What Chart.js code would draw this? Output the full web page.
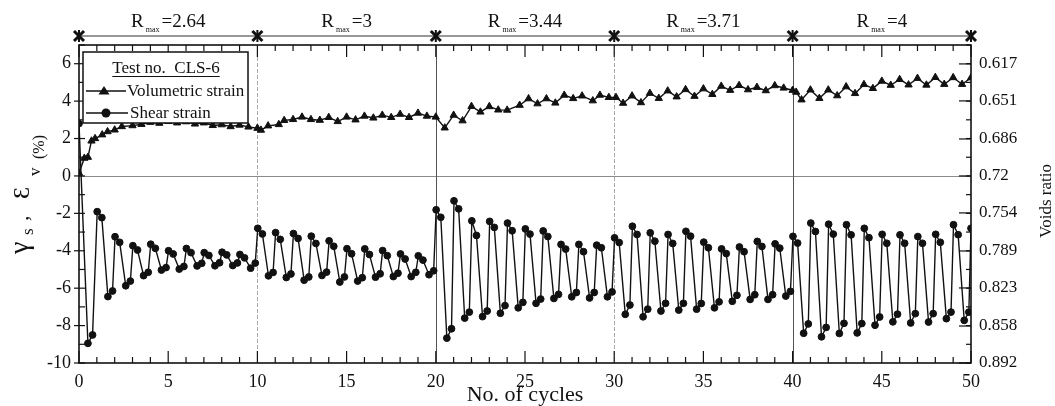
<!DOCTYPE html>
<html><head><meta charset="utf-8">
<script src="https://cdn.jsdelivr.net/npm/chart.js@4.4.1/dist/chart.umd.min.js"></script>
<style>html,body{margin:0;padding:0;background:#fff}#wrap{width:1055px;height:406px;position:relative}</style>
</head><body><div id="wrap"><canvas id="c" width="1055" height="406"></canvas></div>
<script>
// ---- data ----
const volX=[0,0.3,0.5,0.7,0.9,1.3,1.6,2,2.4,3,3.5,4,4.5,5,5.5,6,6.5,7,7.5,8,8.5,9,9.5,10,10.2,10.6,11.2,11.5,12,12.5,13,13.5,14,14.5,15,15.5,16,16.5,17,17.5,18,18.5,19,19.5,20,20.5,21,21.5,22,22.5,23,23.5,24,24.7,25.2,25.7,26.2,26.7,27.2,27.7,28.2,28.8,29.2,29.7,30.1,30.5,31,31.5,32,32.5,33,33.5,34,34.5,35,35.5,36,36.5,37,37.5,38,38.5,39,39.5,40,40.2,40.5,41,41.5,42,42.5,43,43.5,44,44.5,45,45.5,46,46.5,47,47.5,48,48.5,49,49.5,50];
const volY=[0.15,0.95,1.0,1.87,2.0,2.2,2.37,2.46,2.64,2.69,2.76,2.87,2.82,2.92,2.84,2.9,2.78,2.84,2.7,2.74,2.64,2.72,2.62,2.55,2.45,2.68,2.75,2.97,3.02,3.15,3.02,2.98,3.13,2.91,3.15,3.0,3.2,3.1,3.25,3.13,3.3,3.13,3.36,3.2,3.15,2.57,3.25,2.95,3.72,3.42,3.71,3.53,3.52,3.78,4.13,3.86,4.13,3.9,4.32,4.14,4.28,4.02,4.32,4.2,4.2,3.89,4.28,3.92,4.42,4.15,4.55,4.23,4.62,4.26,4.66,4.36,4.8,4.58,4.84,4.61,4.74,4.56,4.83,4.7,4.58,4.48,4.07,4.6,4.15,4.6,4.29,4.77,4.41,4.89,4.68,5.07,4.85,5.16,4.87,5.22,4.86,5.27,4.9,5.26,4.9,5.25];
const shearX=[0,0.5,0.76,
1.02,1.28,1.62,1.88, 2.02,2.28,2.62,2.88, 3.02,3.28,3.62,3.88, 4.02,4.28,4.62,4.88, 5.02,5.28,5.62,5.88,
6.02,6.28,6.62,6.88, 7.02,7.28,7.62,7.88, 8.02,8.28,8.62,8.88, 9.02,9.28,9.62,9.88, 10.02,10.28,10.62,10.88,
11.02,11.28,11.62,11.88, 12.02,12.28,12.62,12.88, 13.02,13.28,13.62,13.88, 14.02,14.28,14.62,14.88, 15.02,15.28,15.62,15.88,
16.02,16.28,16.62,16.88, 17.02,17.28,17.62,17.88, 18.02,18.28,18.62,18.88, 19.02,19.28,19.62,19.88, 20.02,20.28,20.62,20.88,
21.02,21.28,21.62,21.88, 22.02,22.28,22.62,22.88, 23.02,23.28,23.62,23.88, 24.02,24.28,24.62,24.88, 25.02,25.28,25.62,25.88,
26.02,26.28,26.62,26.88, 27.02,27.28,27.62,27.88, 28.02,28.28,28.62,28.88, 29.02,29.28,29.62,29.88, 30.02,30.28,30.62,30.88,
31.02,31.28,31.62,31.88, 32.02,32.28,32.62,32.88, 33.02,33.28,33.62,33.88, 34.02,34.28,34.62,34.88, 35.02,35.28,35.62,35.88,
36.02,36.28,36.62,36.88, 37.02,37.28,37.62,37.88, 38.02,38.28,38.62,38.88, 39.02,39.28,39.62,39.88, 40.02,40.28,40.62,40.88,
41.02,41.28,41.62,41.88, 42.02,42.28,42.62,42.88, 43.02,43.28,43.62,43.88, 44.02,44.28,44.62,44.88, 45.02,45.28,45.62,45.88,
46.02,46.28,46.62,46.88, 47.02,47.28,47.62,47.88, 48.02,48.28,48.62,48.88, 49.02,49.28,49.62,49.88, 50];
const shearY=[2.8,-8.95,-8.5,
-1.91,-2.23,-6.45,-6.15, -3.25,-3.55,-5.87,-5.62, -3.73,-3.96,-5.33,-5.15, -3.65,-3.87,-5.03,-4.9, -4.0,-4.17,-4.98,-4.84,
-3.88,-4.1,-4.81,-4.67, -4.1,-4.25,-4.8,-4.64, -4.08,-4.22,-4.79,-4.65, -4.2,-4.38,-4.93,-4.66, -2.8,-3.1,-5.34,-5.16,
-3.03,-3.39,-5.43,-5.24, -3.08,-3.34,-5.57,-5.4, -3.22,-3.61,-5.32,-5.14, -3.47,-3.76,-5.67,-5.4, -3.89,-4.16,-5.62,-5.44,
-3.9,-4.2,-5.41,-5.23, -3.99,-4.26,-5.38,-5.2, -4.17,-4.44,-5.38,-5.15, -4.27,-4.5,-5.28,-5.07, -1.81,-2.21,-8.67,-8.17,
-1.33,-1.76,-7.6,-7.28, -2.4,-3.18,-7.52,-7.22, -2.43,-2.75,-7.34,-6.93, -2.52,-2.93,-7.05,-6.76, -2.83,-3.11,-6.81,-6.58,
-2.94,-3.24,-6.55,-6.33, -3.66,-3.91,-6.46,-6.23, -3.66,-4.05,-6.52,-6.23, -3.7,-3.84,-6.46,-6.2, -3.31,-3.56,-7.4,-6.9,
-2.69,-3.13,-7.53,-7.12, -3.04,-3.49,-7.22,-6.81, -3.13,-3.61,-7.17,-6.81, -2.96,-3.22,-7.12,-6.82, -3.54,-3.84,-7.05,-6.73,
-3.9,-4.15,-6.7,-6.38, -3.8,-4.05,-6.6,-6.35, -3.5,-3.77,-6.6,-6.35, -3.63,-3.86,-6.42,-6.17, -3.23,-3.59,-8.41,-7.91,
-2.52,-2.97,-8.6,-8.1, -2.58,-3.11,-8.42,-7.88, -2.61,-3.15,-8.39,-7.89, -2.8,-3.3,-7.98,-7.54, -3.12,-3.6,-7.8,-7.39,
-3.15,-3.6,-7.86,-7.36, -3.24,-3.6,-7.81,-7.36, -3.12,-3.55,-7.63,-7.28, -2.61,-3.14,-7.72,-7.28, -2.8];
const leftTickLabels=[-10,-8,-6,-4,-2,0,2,4,6];
const voidsTicks=[0.617,0.651,0.686,0.72,0.754,0.789,0.823,0.858,0.892];
const stageBounds=[0,10,20,30,40,50];
const stageLabels=['2.64','3','3.44','3.71','4'];
const legendTitle='Test no.  CLS-6';
const seriesNames=['Volumetric strain','Shear strain'];
const xTitle='No. of cycles';
const y2Title='Voids ratio';

const SERIF='"Liberation Serif","Times New Roman",serif';
const INK='#111';
Chart.defaults.font.family=SERIF;
Chart.defaults.color=INK;

function seg(ctx,x1,y1,x2,y2){ctx.beginPath();ctx.moveTo(x1,y1);ctx.lineTo(x2,y2);ctx.stroke();}

const decor={
  id:'decor',
  beforeDatasetsDraw(chart){
    const {ctx,chartArea:a,scales:{x,y}}=chart;
    ctx.save();ctx.lineWidth=1;
    stageBounds.slice(1,-1).forEach((v,i)=>{
      const px=Math.round(x.getPixelForValue(v))+0.5;
      if(i%2===1){ctx.strokeStyle='rgba(40,40,40,0.8)';ctx.setLineDash([]);}
      else{ctx.strokeStyle='rgba(110,110,110,0.6)';ctx.setLineDash([4,2]);}
      seg(ctx,px,a.top,px,a.bottom);
    });
    ctx.setLineDash([]);ctx.strokeStyle='rgba(90,90,90,0.7)';
    const py=Math.round(y.getPixelForValue(0))+0.5;seg(ctx,a.left,py,a.right,py);
    ctx.restore();
  },
  afterDatasetsDraw(chart){
    const {ctx,chartArea:a,scales:{x,y,y2}}=chart;
    ctx.save();
    ctx.strokeStyle=INK;ctx.fillStyle=INK;
    // frame
    ctx.lineWidth=1.6;ctx.strokeRect(a.left,a.top,a.right-a.left,a.bottom-a.top);
    // x ticks (inward, top and bottom)
    ctx.lineWidth=1.2;
    for(let v=x.min;v<=x.max;v++){
      const px=x.getPixelForValue(v);const len=(v%5===0)?12:6;
      seg(ctx,px,a.bottom,px,a.bottom-len);seg(ctx,px,a.top,px,a.top+len);
    }
    // y ticks
    for(let v=y.min;v<=y.max;v++){
      const py=y.getPixelForValue(v);
      seg(ctx,a.left,py,a.left+6,py);
      if(leftTickLabels.includes(v))seg(ctx,a.left-5,py,a.left,py);
      seg(ctx,a.right-5,py,a.right,py);
    }
    voidsTicks.forEach(t=>{const py=y2.getPixelForValue(t);seg(ctx,a.right-12,py,a.right,py);});
    // top stage bar
    const barY=a.top-9;
    ctx.lineWidth=1.2;ctx.strokeStyle='#333';
    seg(ctx,x.getPixelForValue(stageBounds[0]),barY,x.getPixelForValue(stageBounds[stageBounds.length-1]),barY);
    ctx.strokeStyle=INK;
    stageBounds.forEach(b=>{
      const px=x.getPixelForValue(b);
      ctx.lineWidth=3;seg(ctx,px-5,barY-5,px+5,barY+5);seg(ctx,px-5,barY+5,px+5,barY-5);
      ctx.lineWidth=2;seg(ctx,px,barY-6,px,barY+6);
    });
    ctx.textAlign='left';ctx.textBaseline='alphabetic';
    const fBig='19px '+SERIF,fSub='8px '+SERIF;
    for(let i=0;i<stageLabels.length;i++){
      const cx=x.getPixelForValue((stageBounds[i]+stageBounds[i+1])/2);
      const rest='='+stageLabels[i];
      ctx.font=fBig;const wR=ctx.measureText('R').width,wV=ctx.measureText(rest).width;
      ctx.font=fSub;const wM=ctx.measureText('max').width;
      let x0=cx-(wR+2+wM+2+wV)/2;const base=a.top-18;
      ctx.font=fBig;ctx.fillText('R',x0,base);x0+=wR+2;
      ctx.font=fSub;ctx.fillText('max',x0,base+5);x0+=wM+2;
      ctx.font=fBig;ctx.fillText(rest,x0,base);
    }
    // legend box
    const lx=a.left+4,ly=a.top+7,lw=165,lh=71;
    ctx.fillStyle='#fff';ctx.fillRect(lx,ly,lw,lh);
    ctx.lineWidth=1.5;ctx.strokeStyle=INK;ctx.strokeRect(lx,ly,lw,lh);
    ctx.fillStyle=INK;ctx.font='17px '+SERIF;ctx.textAlign='center';
    const tcx=lx+83;ctx.fillText(legendTitle,tcx,ly+21);
    const tw=ctx.measureText(legendTitle).width;ctx.lineWidth=1;seg(ctx,tcx-tw/2,ly+24.5,tcx+tw/2,ly+24.5);
    ctx.textAlign='left';
    let ry=ly+39;ctx.lineWidth=1.4;seg(ctx,lx+3,ry,lx+43,ry);
    ctx.beginPath();ctx.moveTo(lx+21,ry-5);ctx.lineTo(lx+26.5,ry+3.5);ctx.lineTo(lx+15.5,ry+3.5);ctx.closePath();ctx.fill();
    ctx.fillText(seriesNames[0],lx+44,ry+5);
    ry=ly+61;seg(ctx,lx+3,ry,lx+45,ry);
    ctx.beginPath();ctx.arc(lx+23,ry,4.5,0,Math.PI*2);ctx.fill();
    ctx.fillText(seriesNames[1],lx+47,ry+5);
    // left axis title
    ctx.save();ctx.translate(28,254);ctx.rotate(-Math.PI/2);
    ctx.textAlign='left';ctx.textBaseline='alphabetic';
    const parts=[['γ',28,0,0],['s',17,19,5],[',',22,33,0],['Ɛ',24,55,1],['v',17,78,12],['(%)',16,95,16]];
    parts.forEach(p=>{ctx.font=p[1]+'px '+SERIF;ctx.fillText(p[0],p[2],p[3]);});
    ctx.restore();
    // right axis title
    ctx.save();ctx.translate(1047,201);ctx.rotate(-Math.PI/2);
    ctx.textAlign='center';ctx.textBaseline='middle';ctx.font='17px '+SERIF;
    ctx.fillText(y2Title,0,0);ctx.restore();
    ctx.restore();
  }
};

const toPts=(xs,ys)=>xs.map((v,i)=>({x:v,y:ys[i]}));
new Chart(document.getElementById('c'),{
  type:'line',
  data:{datasets:[
    {label:seriesNames[0],data:toPts(volX,volY),yAxisID:'y',borderColor:INK,borderWidth:1.4,
     pointStyle:'triangle',pointRadius:4.2,pointBackgroundColor:INK,pointBorderColor:INK,pointBorderWidth:1,tension:0},
    {label:seriesNames[1],data:toPts(shearX,shearY),yAxisID:'y',borderColor:INK,borderWidth:1.4,
     pointStyle:'circle',pointRadius:3.4,pointBackgroundColor:INK,pointBorderColor:INK,pointBorderWidth:1,tension:0}
  ]},
  options:{
    responsive:false,animation:false,devicePixelRatio:1,
    layout:{padding:{top:45,left:0,right:0,bottom:0}},
    plugins:{legend:{display:false},tooltip:{enabled:false}},
    scales:{
      x:{type:'linear',position:'bottom',min:0,max:50,
         ticks:{stepSize:5,autoSkip:false,maxRotation:0,padding:8,font:{size:18,family:SERIF},color:INK},
         grid:{display:false,drawTicks:false},border:{display:false},
         title:{display:true,text:xTitle,font:{size:22,family:SERIF,lineHeight:1.0},color:INK,padding:{top:0,bottom:0}},
         afterFit(s){s.height=43;}},
      y:{type:'linear',position:'left',min:-10,max:7,
         ticks:{stepSize:1,autoSkip:false,padding:8,font:{size:18,family:SERIF},color:INK,
                callback:v=>leftTickLabels.includes(v)?String(v):''},
         grid:{display:false,drawTicks:false},border:{display:false},
         afterFit(s){s.width=79;}},
      y2:{type:'linear',position:'right',reverse:true,min:0.72-0.0172*7,max:0.72+0.0172*10,
         afterBuildTicks(s){s.ticks=voidsTicks.map(v=>({value:v}));},
         ticks:{autoSkip:false,padding:8,font:{size:17,family:SERIF},color:INK,callback:v=>String(v)},
         grid:{display:false,drawTicks:false},border:{display:false},
         afterFit(s){s.width=84;}}
    }
  },
  plugins:[decor]
});
</script></body></html>
